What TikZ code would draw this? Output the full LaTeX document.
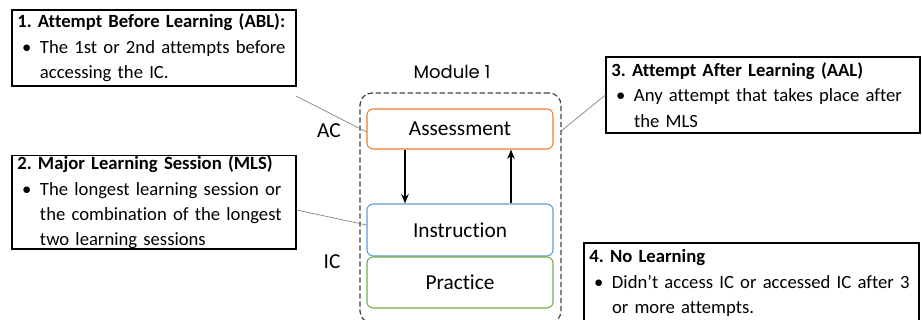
\documentclass[tikz,border=0pt]{standalone}
\usepackage{fontspec}
\setmainfont{Carlito}[Ligatures=NoCommon, WordSpace=0.85]
\newfontfamily\modfont{Poppins}
\usetikzlibrary{arrows.meta}
\usetikzlibrary{positioning}

\definecolor{orangeline}{HTML}{ED7D31}
\definecolor{blueline}{HTML}{5B9BD5}
\definecolor{greenline}{HTML}{70AD47}
\definecolor{callgray}{HTML}{7F7F7F}

\frenchspacing
\newcommand{\headline}[1]{\mbox{\textbf{#1}}}
\newcommand{\bulline}[1]{\mbox{\hspace{3.5pt}\makebox[13.5pt][l]{\textbullet}#1}}
\newcommand{\contline}[1]{\mbox{\hspace{17pt}#1}}

\tikzset{
	notebox/.style={draw, thick, rectangle, align=left, inner xsep=4pt, inner ysep=0pt,
		font=\fontsize{14}{19}\selectfont},
	part/.style={draw, rectangle, rounded corners=4.5pt, line width=0.8pt,
		minimum width=139.5pt, font=\fontsize{16}{19}\selectfont},
	callout/.style={callgray, line width=0.5pt},
	flow/.style={line width=1.6pt, -{Stealth[length=7pt,width=5.5pt]}}
}

\begin{document}
\begin{tikzpicture}[x=0.75pt, y=-0.75pt]
				\useasboundingbox (0,0) rectangle (922,320);
				
				% module frame
				\node[draw, dashed, dash pattern=on 4pt off 2pt, line width=0.9pt, rounded corners=9pt,
					minimum width=150.75pt, minimum height=172.5pt, darkgray] (mod) at (460.5,208) {};
				\node[font=\modfont\fontsize{13.5}{15}\selectfont] (modlabel) at (452,72) {Module 1};
				
				\node[part, orangeline, text=black, minimum height=30pt] (ass) at (460,129) {Assessment};
				\node[part, blueline, text=black, minimum height=39pt] (ins) at (460,230) {Instruction};
				\node[part, greenline, text=black, minimum height=38.25pt] (pra) at (460,282.5) {Practice};
				
				\node[font=\fontsize{16}{19}\selectfont] (ac) at (329,131) {AC};
				\node[font=\fontsize{16}{19}\selectfont] (ic) at (332,262) {IC};
				
				\draw[flow] ([xshift=-41.25pt]ass.south) -- ([xshift=-41.25pt]ins.north);
				\draw[flow] ([xshift=38.25pt]ins.north) -- ([xshift=38.25pt]ass.south);
				
				% explanation boxes
				\node[notebox, text width=205pt, minimum height=57pt] (abl) at (154,48)
					{\headline{1. Attempt Before Learning (ABL):}\\
					\bulline{The 1st or 2nd attempts before}\\
					\contline{accessing the IC.}};
				\node[notebox, text width=205pt, minimum height=66.75pt] (mls) at (154,202.5)
					{\headline{2. Major Learning Session (MLS)}\\
					\bulline{The longest learning session or}\\
					\contline{the combination of the longest}\\
					\contline{two learning sessions}};
				\node[notebox, text width=227.5pt, minimum height=57pt] (aal) at (763,95)
					{\headline{3. Attempt After Learning (AAL)}\\
					\bulline{Any attempt that takes place after}\\
					\contline{the MLS}};
				\node[notebox, text width=243.25pt, minimum height=60pt] (nol) at (751.5,283)
					{\headline{4. No Learning}\\
					\bulline{Didn’t access IC or accessed IC after 3}\\
					\contline{or more attempts.}};
				
				% callout lines
				\coordinate (ablend) at (296,96);
				\draw[callout] (ablend) -- ([yshift=-2.25pt]ass.west);
				\draw[callout] ([yshift=-5.6pt]mls.east) -- ([yshift=3.75pt]ins.west);
				\draw[callout] ([yshift=58pt]mod.east) -- (aal.west);
			\end{tikzpicture}
\end{document}
